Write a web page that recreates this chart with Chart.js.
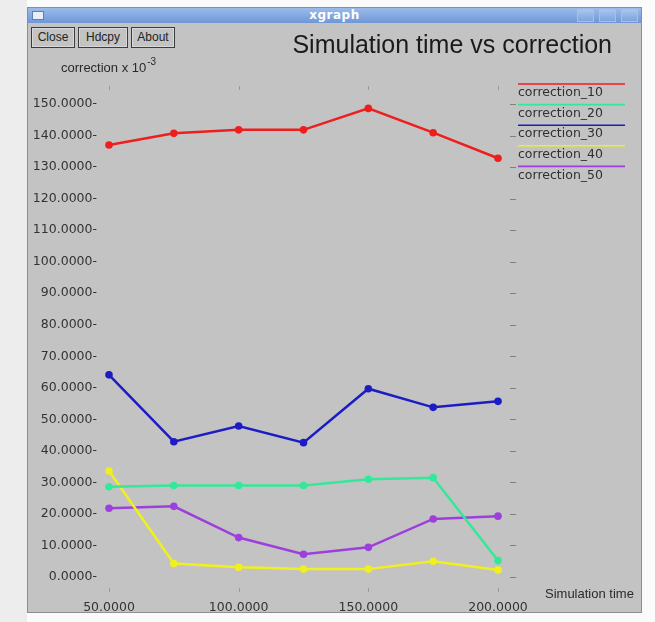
<!DOCTYPE html>
<html><head><meta charset="utf-8">
<script src="https://cdn.jsdelivr.net/npm/chart.js@4/dist/chart.umd.min.js"></script>
<style>
html,body{margin:0;padding:0;width:655px;height:622px;overflow:hidden;background:#fbfbfb;}
#leftstrip{position:absolute;left:0;top:0;width:27px;height:622px;background:#ededed;}
#win{position:absolute;left:27px;top:7px;width:615px;height:606px;background:#c3c3c3;border:1px solid #8e8e8e;box-sizing:border-box;}
#bar{position:absolute;left:0;top:0;right:0;height:15px;background:linear-gradient(#9bbbea,#6f97d6);}
#bar .t{position:absolute;left:0;right:0;top:0;text-align:center;color:#fff;font:bold 12px "DejaVu Sans",sans-serif;line-height:15px;letter-spacing:0.5px;}
#bar .ico{position:absolute;left:4px;top:3px;width:12px;height:9px;background:#e8eef8;border:1px solid #5c7fb8;box-sizing:border-box;}
.wb{position:absolute;top:1px;width:17px;height:13px;border:1px solid #a9c0e6;box-sizing:border-box;background:linear-gradient(#a8c4ee,#7ea3dc);}
.btn{position:absolute;top:19px;height:21px;border:1px solid #3c3c3c;box-shadow:inset 0 0 0 1px #d8d8d8;box-sizing:border-box;font:12px "Liberation Sans",sans-serif;line-height:19px;text-align:center;color:#222;background:#c3c3c3;}
#c{position:absolute;left:0;top:0;}
</style>
</head><body>
<div id="leftstrip"></div>
<div id="win">
  <div id="bar"><div class="ico"></div><div class="t">xgraph</div>
    <div class="wb" style="left:549px"></div><div class="wb" style="left:571px"></div><div class="wb" style="left:593px"></div>
  </div>
  <div class="btn" style="left:3px;width:44px">Close</div>
  <div class="btn" style="left:50px;width:50px">Hdcpy</div>
  <div class="btn" style="left:103px;width:44px">About</div>
</div>
<canvas id="c" width="655" height="622"></canvas>
<script>
const simulationTime = [50, 75, 100, 125, 150, 175, 200];
const seriesNames = ['correction_10', 'correction_20', 'correction_30', 'correction_40', 'correction_50'];
const correction10 = [137.0, 140.7, 141.8, 141.8, 148.6, 140.9, 132.8];
const correction20 = [28.6, 29.0, 29.0, 29.0, 31.0, 31.5, 5.2];
const correction30 = [64.1, 42.9, 47.9, 42.6, 59.7, 53.8, 55.7];
const correction40 = [33.6, 4.3, 3.1, 2.5, 2.5, 5.0, 2.2];
const correction50 = [21.8, 22.4, 12.5, 7.2, 9.4, 18.4, 19.3];
const seriesValues = [correction10, correction20, correction30, correction40, correction50];
const seriesColors = ['#ee1e1e', '#34e89a', '#1c1cc4', '#f0f01e', '#9d3fdc'];
const titleText = 'Simulation time vs correction';
const yUnitText = 'correction x 10';
const yUnitExp = '-3';
const xAxisText = 'Simulation time';

const datasets = seriesNames.map((name, i) => ({
  label: name,
  data: simulationTime.map((x, j) => ({x: x, y: seriesValues[i][j]})),
  borderColor: seriesColors[i],
  backgroundColor: seriesColors[i],
  borderWidth: 2.5,
  pointRadius: 3.8,
  pointHoverRadius: 3.8,
  pointBorderWidth: 0,
  tension: 0,
  clip: false
}));

const decor = {
  id: 'decor',
  afterDraw(chart) {
    const ctx = chart.ctx;
    const a = chart.chartArea;
    const xs = chart.scales.x, ys = chart.scales.y;
    ctx.save();
    ctx.strokeStyle = '#808080';
    ctx.lineWidth = 1;
    ys.ticks.forEach(t => {
      const y = Math.round(ys.getPixelForValue(t.value)) + 0.5;
      ctx.beginPath(); ctx.moveTo(a.right + 12, y); ctx.lineTo(a.right + 18, y); ctx.stroke();
    });
    ctx.strokeStyle = '#9a9a9a';
    xs.ticks.forEach(t => {
      const x = Math.round(xs.getPixelForValue(t.value)) + 0.5;
      ctx.beginPath(); ctx.moveTo(x, a.top - 18); ctx.lineTo(x, a.top - 14); ctx.stroke();
      ctx.beginPath(); ctx.moveTo(x, a.bottom + 11); ctx.lineTo(x, a.bottom + 15); ctx.stroke();
    });
    chart.data.datasets.forEach((ds, i) => {
      const y0 = a.top - 20 + i * 20.6;
      ctx.strokeStyle = ds.borderColor;
      ctx.lineWidth = 1.6;
      ctx.beginPath(); ctx.moveTo(a.right + 20, y0); ctx.lineTo(a.right + 127, y0); ctx.stroke();
      ctx.fillStyle = '#303030';
      ctx.font = '12.5px "DejaVu Sans", sans-serif';
      ctx.textAlign = 'left';
      ctx.textBaseline = 'middle';
      ctx.fillText(ds.label, a.right + 20, y0 + 9);
    });
    ctx.fillStyle = '#1a1a1a';
    ctx.font = '25px "Liberation Sans", Arial, sans-serif';
    ctx.textAlign = 'right';
    ctx.textBaseline = 'middle';
    ctx.fillText(titleText, a.right + 114, a.top - 58);
    ctx.fillStyle = '#2a2a2a';
    ctx.font = '13px "Liberation Sans", Arial, sans-serif';
    ctx.textAlign = 'left';
    ctx.fillText(yUnitText, a.left - 48, a.top - 36);
    const w = ctx.measureText(yUnitText).width;
    ctx.font = '10px "Liberation Sans", Arial, sans-serif';
    ctx.fillText(yUnitExp, a.left - 48 + w + 1, a.top - 42);
    ctx.font = '13px "Liberation Sans", Arial, sans-serif';
    ctx.fillText(xAxisText, a.right + 47, a.bottom + 17);
    ctx.restore();
  }
};

new Chart(document.getElementById('c'), {
  type: 'line',
  data: { datasets },
  options: {
    responsive: false,
    animation: false,
    events: [],
    layout: { padding: { left: 20, top: 104, right: 157, bottom: 5 } },
    plugins: { legend: { display: false }, tooltip: { enabled: false }, title: { display: false } },
    scales: {
      x: {
        type: 'linear', min: 50, max: 200,
        grid: { display: false, drawTicks: false }, border: { display: false },
        ticks: { stepSize: 50, padding: 23, color: '#333', font: { family: 'DejaVu Sans', size: 12.5 },
                 callback: v => v.toFixed(4), maxRotation: 0 },
        afterFit: s => { s.height = 40; }
      },
      y: {
        type: 'linear', min: 0, max: 150,
        grid: { display: false, drawTicks: false }, border: { display: false },
        ticks: { stepSize: 10, padding: 12, color: '#333', font: { family: 'DejaVu Sans', size: 12.5 },
                 callback: v => v.toFixed(4) + '-' },
        afterFit: s => { s.width = 89; }
      }
    }
  },
  plugins: [decor]
});
</script>
</body></html>
